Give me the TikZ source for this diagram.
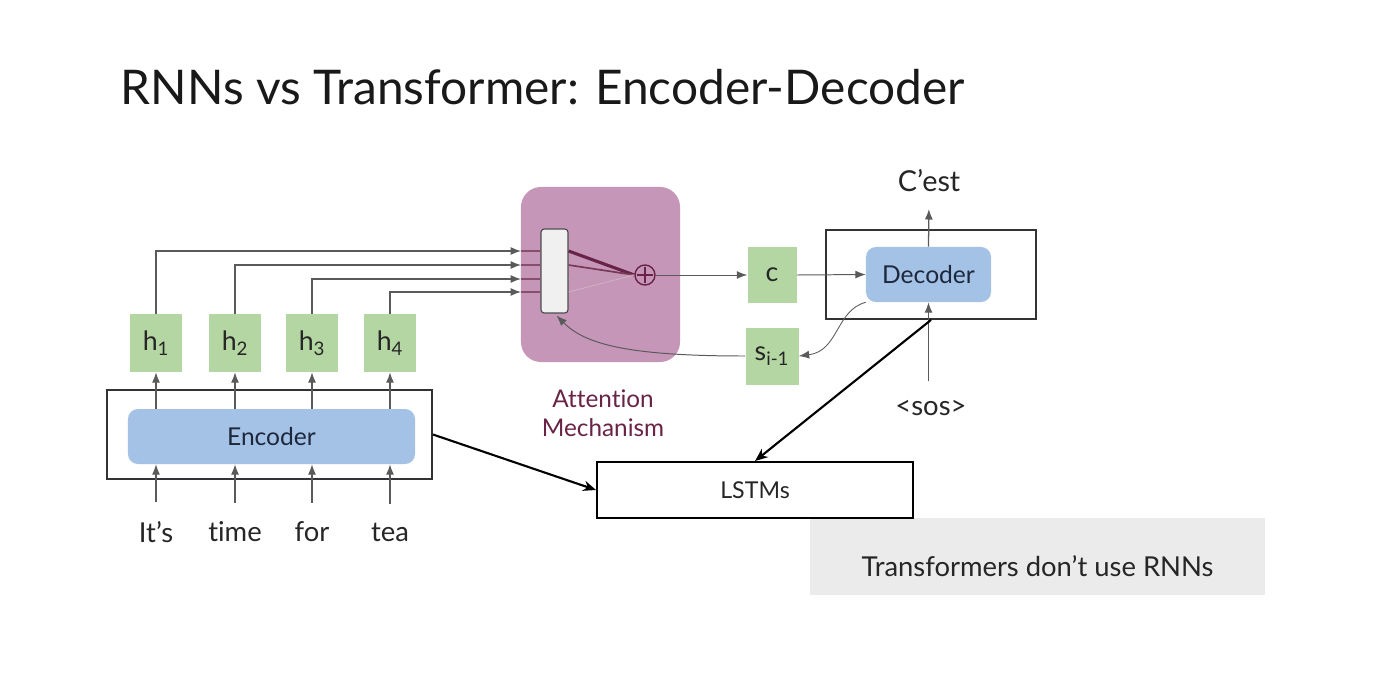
\documentclass[tikz,border=0pt]{standalone}
\usepackage{fontspec}
\setmainfont{Lato}[Ligatures=NoCommon]
\usetikzlibrary{arrows.meta,positioning,calc}

\definecolor{hgreen}{RGB}{180,214,162}
\definecolor{encblue}{RGB}{164,194,230}
\definecolor{attpink}{RGB}{197,150,183}
\definecolor{attdark}{RGB}{105,35,70}
\definecolor{notegray}{RGB}{235,235,235}
\definecolor{linegray}{RGB}{90,90,90}
\definecolor{navytext}{RGB}{30,40,60}

\begin{document}
\begin{tikzpicture}[
    x=0.025cm, y=-0.025cm,
    state/.style={rectangle, fill=hgreen, inner sep=0pt, text=black!85, font=\fontsize{19}{22}\selectfont},
    block/.style={rectangle, rounded corners=0.25cm, fill=encblue, inner sep=0pt, minimum height=1.375cm, text=navytext, font=\fontsize{17.5}{20}\selectfont},
    frame/.style={rectangle, draw=black!80, line width=1.3pt, minimum height=2.225cm, inner sep=0pt},
    word/.style={text=black!85, font=\fontsize{19.5}{22}\selectfont},
    arrow/.style={-{Latex[length=2.6mm,width=2mm]}, draw=linegray, line width=0.9pt},
    bigarrow/.style={-{Stealth[length=3.2mm,width=2.6mm]}, draw=black, line width=1.5pt}
]

% Page
\fill[white] (0,0) rectangle (1378,672);
\useasboundingbox (0,0) rectangle (1378,672);

% Title
\node[anchor=west, text=black!90, font=\fontsize{34}{40}\selectfont] (title) at (116,87) {RNNs vs Transformer: Encoder-Decoder};

% Encoder
\node[frame, minimum width=8.125cm] (encframe) at (269.5,434.5) {};
\node[block, minimum width=7.175cm] (encoder) at (271.5,436.5) {Encoder};

\node[state, minimum width=1.275cm, minimum height=1.45cm] (h1) at (156,343) {h\textsubscript{1}};
\node[state, minimum width=1.275cm, minimum height=1.45cm] (h2) at (235,343) {h\textsubscript{2}};
\node[state, minimum width=1.275cm, minimum height=1.45cm] (h3) at (312,343) {h\textsubscript{3}};
\node[state, minimum width=1.275cm, minimum height=1.45cm] (h4) at (390,343) {h\textsubscript{4}};

\node[word] (w1) at (156,532) {It’s};
\node[word] (w2) at (235,532) {time};
\node[word] (w3) at (312,532) {for};
\node[word] (w4) at (390,532) {tea};

\foreach \i in {1,...,4}{
  \draw[arrow, shorten <=0.35cm] (w\i.north) -- (w\i.north |- encoder.south);
  \draw[arrow] (encoder.north -| h\i) -- (h\i.south);
}

% Attention mechanism
\node[rectangle, rounded corners=0.5cm, fill=attpink, minimum width=3.975cm, minimum height=4.375cm] (att) at (600.5,274.5) {};
\node[rectangle, rounded corners=0.08cm, draw=black!70, fill=black!6, line width=0.8pt, minimum width=0.675cm, minimum height=2.1cm, inner sep=0pt] (bar) at (554.5,271) {};
\node[circle, draw=attdark, line width=1pt, minimum size=0.5cm, inner sep=0pt] (plus) at (645,275) {};
\draw[attdark, line width=1pt, shorten <=2pt, shorten >=2pt] (plus.north) -- (plus.south);
\draw[attdark, line width=1pt, shorten <=2pt, shorten >=2pt] (plus.west) -- (plus.east);

\coordinate (in1) at (521,251);
\coordinate (in2) at (521,265);
\coordinate (in3) at (521,279);
\coordinate (in4) at (521,292);

\foreach \i in {1,...,4}{
  \draw[arrow] (h\i.north) |- (in\i);
  \draw[attdark!80, line width=0.9pt] (in\i) -- (in\i -| bar.west);
}

\draw[attdark, line width=2.2pt] (in1 -| bar.east) -- (plus.west);
\draw[attdark!90, line width=1.2pt] (in2 -| bar.east) -- (plus.west);
\draw[attdark!45, line width=0.6pt] (in3 -| bar.east) -- (plus.west);
\draw[attdark!30, line width=0.4pt] (in4 -| bar.east) -- (plus.west);

\node[text=attdark, align=center, font=\fontsize{17.3}{20.5}\selectfont] (attlabel) at (603,413) {Attention\\Mechanism};

% Context and state
\node[state, minimum width=1.225cm, minimum height=1.375cm] (c) at (772,275) {c};
\node[state, minimum width=1.325cm, minimum height=1.425cm] (s) at (772,356) {s\textsubscript{i-1}};

\draw[arrow, line width=0.7pt] (plus.east) -- (c.west);

% Decoder
\node[frame, minimum width=5.25cm] (decframe) at (931,274.5) {};
\node[block, minimum width=3.125cm] (decoder) at (928.5,274.5) {Decoder};

\node[word, font=\fontsize{20.5}{24}\selectfont] (cest) at (929,181) {C’est};
\node[word, font=\fontsize{19.5}{22}\selectfont] (sos) at (931,408) {<sos>};

\draw[arrow, line width=0.7pt] (c.east) -- (decoder.west);
\draw[arrow, shorten >=0.3cm] (decoder.north) -- (cest.south);
\draw[arrow, shorten <=0.35cm] (sos.north -| decoder) -- (decoder.south);
\draw[arrow, line width=0.6pt] (decoder.south west) .. controls +(-30,8) and +(40,-5) .. (s.east);
\draw[arrow, line width=0.7pt, shorten >=2pt] (s.west) .. controls +(-120,0) and +(30,30) .. (bar.south);

% Note
\node[fill=notegray, minimum width=11.375cm, minimum height=1.925cm, text=black!85, font=\fontsize{19.5}{22}\selectfont] (note) at (1037.5,556.5) {\raisebox{-7pt}[\height][\depth]{Transformers don’t use RNNs}};

% LSTMs
\node[draw=black, line width=1.4pt, fill=white, minimum width=7.9cm, minimum height=1.4cm, text=black!85, font=\fontsize{16.5}{19}\selectfont] (lstm) at (755,490) {LSTMs};

\draw[bigarrow] (encframe.east) -- (lstm.west);
\draw[bigarrow] (decframe.south) -- (lstm.north);

\end{tikzpicture}
\end{document}
